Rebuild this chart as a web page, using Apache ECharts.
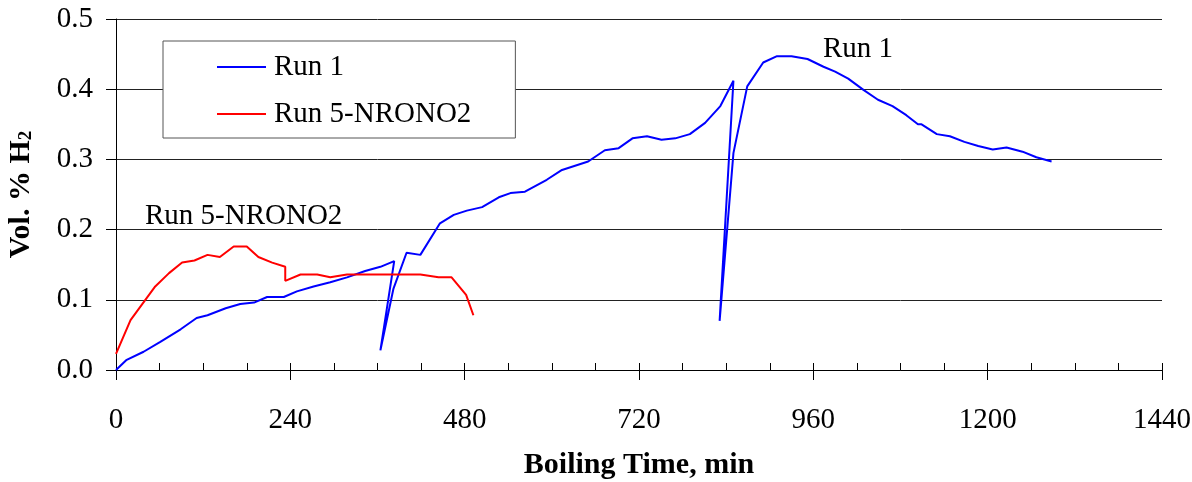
<!DOCTYPE html>
<html>
<head>
<meta charset="utf-8">
<script src="https://cdn.jsdelivr.net/npm/echarts@6/dist/echarts.min.js"></script>
<style>html,body{margin:0;padding:0;background:#fff;}#c{width:1192px;height:482px;}</style>
</head>
<body>
<div id="c"></div>
<script>
const run1Time = [0,14,38,61,89,111,126,151,171,190,208,231,249,272,295,318,343,364,383,364,382,400,419,446,465,483,504,527,543,563,593,614,650,673,692,711,731,751,770,790,811,832,850,831,850,869,891,910,930,952,974,990,1008,1029,1049,1069,1088,1104,1109,1130,1148,1168,1187,1207,1226,1248,1267,1288];
const run1Vol = [0,0.014,0.026,0.040,0.058,0.074,0.078,0.088,0.094,0.096,0.104,0.104,0.112,0.119,0.125,0.132,0.141,0.147,0.155,0.028,0.116,0.167,0.164,0.209,0.221,0.227,0.232,0.246,0.252,0.254,0.271,0.285,0.297,0.313,0.316,0.330,0.333,0.328,0.330,0.336,0.352,0.376,0.412,0.070,0.309,0.404,0.438,0.447,0.447,0.443,0.432,0.425,0.415,0.399,0.385,0.376,0.363,0.350,0.350,0.336,0.333,0.325,0.319,0.314,0.317,0.311,0.303,0.297];
const run5Time = [0,20,54,73,91,108,126,143,162,180,196,215,233,233,254,277,295,318,419,444,462,482,492];
const run5Vol = [0.023,0.071,0.119,0.138,0.153,0.156,0.164,0.161,0.176,0.176,0.161,0.153,0.147,0.127,0.136,0.136,0.132,0.136,0.136,0.132,0.132,0.107,0.078];
const seriesNames = ['Run 1', 'Run 5-NRONO2'];
const xTicks = [0,240,480,720,960,1200,1440];
const yTicks = [0,0.1,0.2,0.3,0.4,0.5];

const FONT = '"Liberation Serif","Times New Roman",serif';
const pair = (xs, ys) => xs.map((x, i) => [x, ys[i]]);

const chart = echarts.init(document.getElementById('c'), null, {renderer: 'canvas'});
chart.setOption({
  animation: false,
  backgroundColor: '#fff',
  textStyle: {fontFamily: FONT, color: '#000'},
  grid: {left: 116, right: 30, top: 19, bottom: 112, containLabel: false, outerBoundsMode: 'none'},
  xAxis: [{
    type: 'value', min: xTicks[0], max: xTicks[xTicks.length - 1], interval: 240,
    name: 'Boiling Time, min', nameLocation: 'middle', nameGap: 80,
    nameTextStyle: {fontFamily: FONT, fontSize: 30, fontWeight: 'bold', color: '#000'},
    axisLine: {show: true, lineStyle: {color: '#000', width: 1}},
    axisTick: {show: true, inside: false, length: 10, lineStyle: {color: '#000'}},
    axisLabel: {fontFamily: FONT, fontSize: 29, color: '#000', margin: 36, formatter: v => String(v)},
    splitLine: {show: false}
  }, {
    type: 'value', min: 0, max: 1440, interval: 60, position: 'bottom',
    axisLine: {show: false},
    axisTick: {show: true, inside: true, length: 7, lineStyle: {color: '#000'}},
    axisLabel: {show: false},
    splitLine: {show: false}
  }],
  yAxis: {
    type: 'value', min: yTicks[0], max: yTicks[yTicks.length - 1], interval: 0.1,
    name: 'Vol. % H{sub|2}', nameLocation: 'middle', nameGap: 80,
    nameTextStyle: {fontFamily: FONT, fontSize: 30, fontWeight: 'bold', color: '#000',
      rich: {sub: {fontFamily: FONT, fontSize: 19, fontWeight: 'bold', verticalAlign: 'bottom', padding: [10,0,0,0]}}},
    axisLine: {show: true, lineStyle: {color: '#000', width: 1}},
    axisTick: {show: true, inside: false, length: 10, lineStyle: {color: '#000'}},
    axisLabel: {fontFamily: FONT, fontSize: 29, color: '#000', margin: 23, formatter: v => v.toFixed(1)},
    splitLine: {show: true, lineStyle: {color: '#222', width: 1}}
  },
  legend: {
    orient: 'vertical', left: 163, top: 41,
    padding: [11, 44, 9, 54],
    itemGap: 17, itemWidth: 49, itemHeight: 2, icon: 'rect',
    borderColor: '#555', borderWidth: 1, backgroundColor: '#fff',
    textStyle: {fontFamily: FONT, fontSize: 29, color: '#000', lineHeight: 30, padding: [0,0,0,3]},
    data: seriesNames
  },
  series: [{
    name: seriesNames[0], type: 'line', xAxisIndex: 0, symbol: 'none',
    color: '#0000FF', lineStyle: {color: '#0000FF', width: 2},
    data: pair(run1Time, run1Vol)
  }, {
    name: seriesNames[1], type: 'line', xAxisIndex: 0, symbol: 'none',
    color: '#FF0000', lineStyle: {color: '#FF0000', width: 2},
    data: pair(run5Time, run5Vol)
  }],
  graphic: [
    {type: 'text', left: 823, top: 35, style: {text: 'Run 1', font: '29px ' + FONT, fill: '#000'}},
    {type: 'text', left: 145, top: 202, style: {text: 'Run 5-NRONO2', font: '29px ' + FONT, fill: '#000'}}
  ]
});
</script>
</body>
</html>
